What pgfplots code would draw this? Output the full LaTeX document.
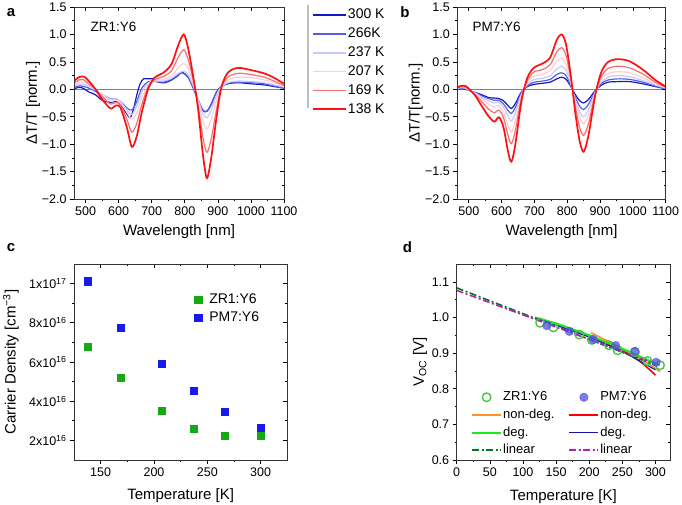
\documentclass[border=0pt]{standalone}
\usepackage{pgfplots}
\pgfplotsset{compat=1.18}
\usepackage{fontspec}
\setmainfont{Liberation Sans}

\definecolor{c300}{RGB}{20,25,195}
\definecolor{c266}{RGB}{85,95,230}
\definecolor{c237}{RGB}{195,202,255}
\definecolor{c207}{RGB}{255,205,210}
\definecolor{c169}{RGB}{245,110,112}
\definecolor{c138}{RGB}{255,15,15}
\definecolor{zrg}{RGB}{20,170,20}
\definecolor{pmb}{RGB}{25,25,235}
\definecolor{circg}{RGB}{70,200,70}
\definecolor{circb}{RGB}{80,80,225}
\definecolor{orng}{RGB}{255,145,40}
\definecolor{degg}{RGB}{30,235,30}
\definecolor{degb}{RGB}{20,20,170}
\definecolor{ling}{RGB}{0,120,30}
\definecolor{linm}{RGB}{180,30,180}

\pgfplotsset{
  base/.style={scale only axis, anchor=south west,
    tick label style={font=\fontsize{12.5}{14}\selectfont},
    label style={font=\fontsize{15}{17}\selectfont},
    major tick length=4pt, minor tick length=2.2pt,
    tick style={black, line width=0.6pt},
    axis line style={line width=0.7pt, black!80},
    /pgf/number format/assume math mode=true,
    /pgf/number format/1000 sep={}},
  mainax/.style={base, tick align=outside, xtick pos=left, ytick pos=left},
  mirrorax/.style={base, tick align=inside, xtick pos=right, ytick pos=right,
    xticklabels={}, yticklabels={}},
  pa/.style={width=210pt, height=192pt, xmin=465, xmax=1100, ymin=-2, ymax=1.5,
    xtick={500,600,700,800,900,1000,1100}, minor x tick num=1,
    ytick={-2,-1.5,-1,-0.5,0,0.5,1,1.5}, minor y tick num=1},
  pc/.style={width=213.3pt, height=196pt, xmin=125, xmax=325, ymin=1, ymax=11,
    xtick={150,200,250,300}, minor x tick num=1,
    ytick={2,4,6,8,10}, minor y tick num=1},
  pd/.style={width=213.3pt, height=196pt, xmin=0, xmax=322, ymin=0.6, ymax=1.15,
    xtick={0,50,100,150,200,250,300}, minor x tick num=1,
    ytick={0.6,0.7,0.8,0.9,1.0,1.1}, minor y tick num=1},
  thinc/.style={line width=1.2pt, smooth, tension=0.5},
  thickc/.style={line width=1.7pt, smooth, tension=0.5},
  dline/.style={legend image code/.code={\path[draw=none,fill=none] (0pt,-1pt) rectangle (29pt,1pt); \draw[##1, line width=#1] (0pt,0pt) -- (29pt,0pt);}},
}

\begin{document}
\begin{tikzpicture}[x=1pt,y=1pt]
\path[use as bounding box] (0,0) rectangle (682,505);

%%%%%%%%%%%%%%%% panel a
\begin{axis}[mainax, pa, at={(74pt,306pt)},
  yticklabels={−2.0,−1.5,−1.0,−0.5,0.0,0.5,1.0,1.5},
  xlabel={Wavelength [nm]}, ylabel={ΔT/T [norm.]},
  xlabel style={at={(axis description cs:0.5,-0.17)}, anchor=center},
  ylabel style={at={(axis description cs:-0.195,0.5)}, anchor=center},
  legend image code/.code={\draw[#1, line width=1.8pt] (0pt,0pt) -- (33pt,0pt);},
  legend cell align=left,
  legend style={draw=none, fill=none, at={(axis description cs:1.119,1.007)}, anchor=north west,
    font=\fontsize{14}{16}\selectfont, row sep=4.9pt,
    nodes={inner sep=1pt, text height=10pt, text depth=2pt}},
]
\addplot[gray, line width=0.8pt, forget plot] coordinates {(465,0) (1100,0)};
\addplot[c300, thinc] coordinates {(465,0.00) (480,0.04) (495,0.01) (510,-0.05) (530,-0.10) (550,-0.20) (575,-0.24) (590,-0.22) (605,-0.28) (625,-0.45) (635,-0.52) (645,-0.36) (655,-0.10) (665,0.10) (675,0.19) (690,0.19) (705,0.19) (720,0.13) (740,0.12) (760,0.17) (780,0.25) (792,0.31) (810,0.22) (825,0.03) (840,-0.20) (855,-0.39) (867,-0.40) (880,-0.27) (895,-0.06) (910,0.05) (930,0.10) (960,0.12) (1000,0.10) (1040,0.08) (1070,0.05) (1100,0.02)};
\addplot[c266, thinc] coordinates {(465,0.03) (480,0.06) (495,0.05) (510,0.02) (530,-0.04) (550,-0.10) (575,-0.17) (590,-0.17) (605,-0.22) (625,-0.34) (640,-0.38) (655,-0.22) (670,0.02) (690,0.14) (710,0.14) (735,0.13) (760,0.18) (780,0.26) (792,0.30) (810,0.22) (825,0.04) (840,-0.18) (855,-0.38) (867,-0.40) (880,-0.28) (895,-0.07) (910,0.05) (930,0.11) (960,0.13) (1000,0.12) (1040,0.10) (1070,0.06) (1100,0.02)};
\addplot[c237, thinc] coordinates {(465,0.06) (480,0.09) (495,0.09) (510,0.05) (530,-0.02) (550,-0.09) (575,-0.18) (590,-0.17) (605,-0.22) (625,-0.38) (640,-0.46) (655,-0.30) (670,-0.05) (690,0.12) (710,0.15) (735,0.15) (760,0.20) (780,0.29) (797,0.33) (810,0.27) (825,0.07) (840,-0.18) (855,-0.45) (867,-0.52) (880,-0.38) (895,-0.12) (910,0.04) (930,0.12) (960,0.15) (1000,0.14) (1040,0.12) (1070,0.08) (1100,0.04)};
\addplot[c207, thinc] coordinates {(465,0.08) (480,0.13) (495,0.13) (510,0.08) (530,0.00) (550,-0.10) (575,-0.22) (590,-0.20) (605,-0.24) (625,-0.42) (640,-0.55) (655,-0.42) (670,-0.15) (690,0.08) (710,0.16) (735,0.18) (760,0.25) (780,0.39) (797,0.47) (810,0.38) (825,0.12) (840,-0.20) (855,-0.58) (867,-0.72) (880,-0.55) (895,-0.22) (910,0.04) (930,0.17) (960,0.22) (1000,0.21) (1040,0.17) (1070,0.12) (1100,0.05)};
\addplot[c169, thinc] coordinates {(465,0.11) (480,0.17) (495,0.17) (510,0.10) (530,0.00) (550,-0.13) (575,-0.27) (590,-0.24) (605,-0.28) (625,-0.55) (640,-0.78) (655,-0.62) (670,-0.28) (690,0.05) (710,0.18) (735,0.23) (760,0.34) (780,0.58) (797,0.72) (810,0.55) (825,0.18) (840,-0.28) (855,-0.88) (867,-1.15) (880,-0.90) (895,-0.40) (910,0.03) (930,0.22) (960,0.29) (1000,0.27) (1040,0.22) (1070,0.15) (1100,0.07)};
\addplot[c138, thickc] coordinates {(465,0.15) (480,0.22) (495,0.23) (510,0.15) (530,0.00) (550,-0.18) (575,-0.35) (590,-0.30) (605,-0.33) (625,-0.70) (640,-1.05) (655,-0.85) (670,-0.42) (690,0.02) (710,0.22) (735,0.30) (760,0.46) (780,0.80) (797,1.00) (810,0.75) (825,0.25) (840,-0.35) (855,-1.20) (867,-1.62) (880,-1.25) (895,-0.55) (910,0.02) (930,0.30) (960,0.39) (1000,0.35) (1040,0.29) (1070,0.21) (1100,0.10)};
\legend{300 K,266K,237 K,207 K,169 K,138 K}
\node[anchor=west, font=\fontsize{13.5}{16}\selectfont] at (axis description cs:0.062,0.896) {ZR1:Y6};
\end{axis}
\begin{axis}[mirrorax, pa, at={(74pt,306pt)}]
\end{axis}

%%%%%%%%%%%%%%%% panel b
\begin{axis}[mainax, pa, width=208.4pt, at={(457.3pt,306pt)},
  yticklabels={−2.0,−1.5,−1.0,−0.5,0.0,0.5,1.0,1.5},
  xlabel={Wavelength [nm]}, ylabel={ΔT/T[norm.]},
  xlabel style={at={(axis description cs:0.5,-0.17)}, anchor=center},
  ylabel style={at={(axis description cs:-0.2,0.5)}, anchor=center},
]
\addplot[gray, line width=0.8pt, forget plot] coordinates {(465,0) (1100,0)};
\addplot[c300, thinc] coordinates {(465,0.00) (475,0.01) (490,0.00) (505,-0.03) (520,-0.06) (540,-0.10) (560,-0.15) (578,-0.16) (592,-0.17) (606,-0.21) (620,-0.30) (630,-0.35) (642,-0.26) (657,-0.08) (668,0.00) (682,0.06) (700,0.09) (725,0.11) (748,0.13) (768,0.19) (783,0.22) (795,0.19) (805,0.11) (815,0.01) (825,-0.10) (838,-0.21) (850,-0.25) (864,-0.19) (878,-0.08) (889,0.00) (905,0.08) (925,0.13) (955,0.14) (990,0.14) (1030,0.10) (1068,0.05) (1100,0.01)};
\addplot[c266, thinc] coordinates {(465,0.00) (475,0.02) (490,0.01) (505,-0.03) (520,-0.06) (540,-0.12) (560,-0.17) (578,-0.20) (592,-0.20) (606,-0.27) (620,-0.39) (630,-0.44) (642,-0.33) (657,-0.10) (668,0.00) (682,0.08) (700,0.13) (725,0.15) (748,0.18) (768,0.27) (783,0.30) (795,0.26) (805,0.15) (815,0.01) (825,-0.15) (838,-0.31) (850,-0.37) (864,-0.28) (878,-0.12) (889,0.00) (905,0.11) (925,0.17) (955,0.19) (990,0.18) (1030,0.13) (1068,0.06) (1100,0.01)};
\addplot[c237, thinc] coordinates {(465,0.01) (475,0.03) (490,0.02) (505,-0.03) (520,-0.07) (540,-0.15) (560,-0.21) (578,-0.25) (592,-0.24) (606,-0.33) (620,-0.50) (630,-0.58) (642,-0.43) (657,-0.14) (668,0.00) (682,0.11) (700,0.18) (725,0.20) (748,0.25) (768,0.37) (783,0.42) (795,0.36) (805,0.21) (815,0.02) (825,-0.20) (838,-0.42) (850,-0.50) (864,-0.38) (878,-0.16) (889,0.00) (905,0.14) (925,0.22) (955,0.25) (990,0.23) (1030,0.16) (1068,0.08) (1100,0.02)};
\addplot[c207, thinc] coordinates {(465,0.02) (475,0.04) (490,0.03) (505,-0.03) (520,-0.08) (540,-0.18) (560,-0.27) (578,-0.32) (592,-0.30) (606,-0.42) (620,-0.67) (630,-0.78) (642,-0.58) (657,-0.19) (668,0.00) (682,0.15) (700,0.24) (725,0.27) (748,0.34) (768,0.51) (783,0.57) (795,0.48) (805,0.28) (815,0.03) (825,-0.25) (838,-0.52) (850,-0.63) (864,-0.48) (878,-0.20) (889,0.00) (905,0.19) (925,0.29) (955,0.32) (990,0.30) (1030,0.21) (1068,0.10) (1100,0.03)};
\addplot[c169, thinc] coordinates {(465,0.03) (475,0.05) (490,0.04) (505,-0.03) (520,-0.10) (540,-0.23) (560,-0.36) (578,-0.43) (592,-0.38) (606,-0.52) (620,-0.85) (630,-0.99) (642,-0.75) (657,-0.25) (668,0.00) (682,0.20) (700,0.32) (725,0.36) (748,0.45) (768,0.68) (783,0.76) (795,0.64) (805,0.38) (815,0.04) (825,-0.33) (838,-0.70) (850,-0.84) (864,-0.64) (878,-0.27) (889,0.00) (905,0.25) (925,0.38) (955,0.42) (990,0.39) (1030,0.28) (1068,0.13) (1100,0.04)};
\addplot[c138, thickc] coordinates {(465,0.03) (475,0.06) (490,0.06) (505,-0.02) (520,-0.12) (540,-0.31) (560,-0.49) (578,-0.59) (592,-0.51) (606,-0.70) (620,-1.15) (630,-1.32) (642,-1.00) (657,-0.35) (668,0.00) (682,0.26) (700,0.40) (725,0.47) (748,0.58) (768,0.90) (783,1.00) (795,0.85) (805,0.50) (815,0.05) (825,-0.45) (838,-0.95) (850,-1.14) (864,-0.86) (878,-0.36) (889,0.00) (905,0.33) (925,0.50) (955,0.55) (990,0.51) (1030,0.36) (1068,0.17) (1100,0.05)};
\node[anchor=west, font=\fontsize{13.5}{16}\selectfont] at (axis description cs:0.057,0.896) {PM7:Y6};
\end{axis}
\begin{axis}[mirrorax, pa, width=208.4pt, at={(457.3pt,306pt)}]
\end{axis}

%%%%%%%%%%%%%%%% panel c
\begin{axis}[mainax, pc, at={(74pt,45pt)},
  yticklabels={2x10\textsuperscript{16},4x10\textsuperscript{16},6x10\textsuperscript{16},8x10\textsuperscript{16},1x10\textsuperscript{17}},
  xlabel={Temperature [K]}, ylabel={Carrier Density [cm\textsuperscript{−3}]},
  xlabel style={at={(axis description cs:0.5,-0.18)}, anchor=center},
  ylabel style={at={(axis description cs:-0.296,0.5)}, anchor=center},
  legend image code/.code={\path[draw=none,fill=none] (0pt,-1pt) rectangle (18pt,1pt); \draw[mark repeat=2,mark phase=2,#1] plot coordinates {(0pt,0pt) (8pt,0pt) (16pt,0pt)};},
  legend cell align=left,
  legend style={draw=none, fill=none, at={(axis description cs:0.53,0.864)}, anchor=north west,
    font=\fontsize{14}{16}\selectfont, row sep=3.5pt,
    nodes={inner sep=1pt, text height=10pt, text depth=2pt}},
]
\addplot[only marks, mark=square*, mark size=3.6pt, color=zrg] coordinates {(138,6.77) (169,5.18) (207,3.52) (237,2.60) (266,2.22) (300,2.25)};
\addplot[only marks, mark=square*, mark size=3.6pt, color=pmb] coordinates {(138,10.12) (169,7.74) (207,5.93) (237,4.55) (266,3.47) (300,2.63)};
\legend{ZR1:Y6,PM7:Y6}
\end{axis}
\begin{axis}[mirrorax, pc, at={(74pt,45pt)}]
\end{axis}

%%%%%%%%%%%%%%%% panel d
\begin{axis}[mainax, pd, at={(456.7pt,45pt)},
  yticklabels={0.6,0.7,0.8,0.9,1.0,1.1},
  xlabel={Temperature [K]}, ylabel={V\textsubscript{OC} [V]},
  xlabel style={at={(axis description cs:0.5,-0.185)}, anchor=center},
  ylabel style={at={(axis description cs:-0.172,0.5)}, anchor=center},
  legend columns=2,
  legend image code/.code={\path[draw=none,fill=none] (0pt,-1pt) rectangle (29pt,1pt); \draw[mark repeat=2,mark phase=2,#1] plot coordinates {(0pt,0pt) (14.5pt,0pt) (29pt,0pt)};},
  legend cell align=left,
  legend style={draw=none, fill=none, at={(axis description cs:0.052,0.367)}, anchor=north west,
    font=\fontsize{13}{15}\selectfont, row sep=3.7pt,
    nodes={inner sep=1pt, text height=9.5pt, text depth=2.5pt},
    /tikz/every even column/.append style={column sep=13pt}},
]
\addplot[only marks, mark=o, mark size=4.3pt, color=circg, line width=1.4pt] coordinates {(126,0.985) (146,0.972) (185,0.952) (204,0.937) (230,0.922) (243,0.908) (269,0.903) (288,0.878) (307,0.866)};
\addplot[only marks, mark=*, mark size=4.3pt, color=circb, mark options={fill opacity=0.75, draw opacity=0.75}] coordinates {(136,0.977) (170,0.961) (206,0.938) (240,0.921) (269,0.905) (301,0.874)};
\addplot[orng, line width=1.6pt, dline=1.8pt] coordinates {(203,0.957) (230,0.932) (260,0.903) (285,0.876) (307,0.848)};
\addplot[red, line width=1.6pt, smooth, dline=1.8pt] coordinates {(200,0.950) (230,0.924) (260,0.897) (280,0.872) (300,0.838)};
\addplot[degg, line width=2.2pt, dline=2.2pt] coordinates {(118,1.000) (150,0.983) (200,0.950) (250,0.912) (306,0.866)};
\addplot[degb, line width=1.1pt, dline=1.2pt] coordinates {(122,0.997) (200,0.945) (250,0.905) (300,0.853)};
\addplot[ling, line width=1.6pt, dash pattern=on 7pt off 2.5pt on 2pt off 2.5pt, dline=1.8pt] coordinates {(0,1.083) (300,0.866)};
\addplot[linm, line width=1.6pt, dash pattern=on 7pt off 2.5pt on 2pt off 2.5pt, dline=1.8pt] coordinates {(0,1.076) (300,0.870)};
\legend{ZR1:Y6,PM7:Y6,non-deg.,non-deg.,deg.,deg.,linear,linear}
\end{axis}
\begin{axis}[mirrorax, pd, at={(456.7pt,45pt)}]
\end{axis}

% legend side bar and panel letters
\draw[black!25, line width=1.6pt] (307.7,500) -- (307.7,397);
\node[font=\bfseries\fontsize{15}{17}\selectfont] at (11,492.5) {a};
\node[font=\bfseries\fontsize{15}{17}\selectfont] at (405,492.5) {b};
\node[font=\bfseries\fontsize{15}{17}\selectfont] at (11,257.5) {c};
\node[font=\bfseries\fontsize{15}{17}\selectfont] at (407.5,257.5) {d};
\end{tikzpicture}
\end{document}
